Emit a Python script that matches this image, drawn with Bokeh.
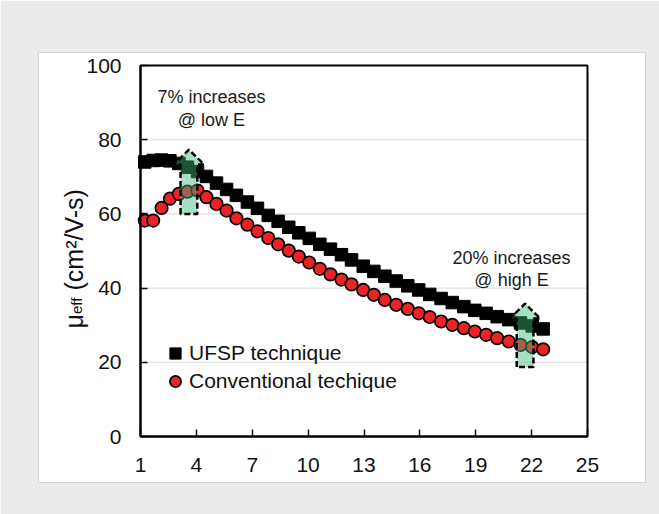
from bokeh.core.properties import value
from bokeh.embed import file_html
from bokeh.models import Label, Legend, LegendItem, Range1d
from bokeh.plotting import figure
from bokeh.resources import INLINE
import math

# Effective field sweep and the measured mobilities for both techniques
e_field = [1.23, 1.68, 2.13, 2.58, 3.06, 3.52, 4.06, 4.54, 5.08, 5.62,
           6.15, 6.74, 7.28, 7.86, 8.39, 8.96, 9.50, 10.06, 10.63, 11.20,
           11.79, 12.33, 12.96, 13.53, 14.12, 14.73, 15.35, 15.94, 16.53, 17.14,
           17.74, 18.36, 18.95, 19.56, 20.15, 20.77, 21.40, 22.03, 22.62]
mu_ufsp = [74.0, 74.4, 74.5, 74.3, 73.6, 72.6, 71.4, 70.1, 68.3, 66.6,
           65.0, 63.2, 61.5, 59.6, 58.0, 56.4, 54.9, 53.4, 51.8, 50.5,
           49.0, 47.6, 45.9, 44.5, 43.2, 41.9, 40.6, 39.5, 38.3, 37.2,
           36.1, 35.0, 34.0, 33.2, 32.3, 31.5, 30.6, 29.8, 29.0]
mu_conv = [58.2, 58.2, 61.6, 64.1, 65.4, 66.0, 66.3, 64.5, 62.7, 60.9,
           58.8, 57.1, 55.3, 53.5, 51.8, 50.1, 48.5, 46.9, 45.2, 43.7,
           42.3, 41.0, 39.5, 38.2, 36.8, 35.5, 34.4, 33.2, 32.2, 31.0,
           30.1, 29.2, 28.3, 27.4, 26.5, 25.6, 24.7, 24.1, 23.5]

series_names = ["UFSP technique", "Conventional techique"]

x_ticks = [1, 4, 7, 10, 13, 16, 19, 22, 25]
y_ticks = [0, 20, 40, 60, 80, 100]

# Highlight arrows: field position, start and tip of each arrow
arrow_x = [3.6, 21.65]
arrow_base = [60.0, 18.7]
arrow_tip = [77.3, 35.8]

# Callout texts (two lines each) and their anchors in data space
note_lines = [["7% increases", "@ low E"], ["20% increases", "@ high E"]]
note_x = [4.81, 20.92]
note_y = [[91.4, 85.2], [48.2, 42.3]]

FONT = "Liberation Sans"

# The white card is the plot frame; the axis box sits inside it.
PX_X = 18.625          # pixels per field unit
PX_Y = 3.71            # pixels per mobility unit
PAD_L, PAD_R, PAD_B, PAD_T = 102, 58, 46, 13   # card margin around the axis box

x0 = x_ticks[0] - PAD_L / PX_X
x1 = x_ticks[-1] + PAD_R / PX_X
y0 = y_ticks[0] - PAD_B / PX_Y
y1 = y_ticks[-1] + PAD_T / PX_Y

p = figure(width=659, height=514,
           x_range=Range1d(x0, x1), y_range=Range1d(y0, y1),
           min_border_left=38, min_border_right=14,
           min_border_top=52, min_border_bottom=32,
           output_backend="svg", toolbar_location=None)

p.border_fill_color = "#ebebeb"
p.background_fill_color = "white"
p.outline_line_color = "#d4d4d4"
p.outline_line_width = 1

# Axes pinned to the corner of the axis box
p.xaxis.fixed_location = y_ticks[0]
p.xaxis.bounds = (x_ticks[0], x_ticks[-1])
p.yaxis.fixed_location = x_ticks[0]
p.yaxis.bounds = (y_ticks[0], y_ticks[-1])
for ax in (p.xaxis[0], p.yaxis[0]):
    ax.axis_line_color = "black"
    ax.axis_line_width = 2
    ax.major_tick_in = 7
    ax.major_tick_out = 0
    ax.major_tick_line_color = "black"
    ax.major_tick_line_width = 1.5
    ax.minor_tick_line_color = None
    ax.major_label_text_font = FONT
    ax.major_label_text_font_size = "21px"
    ax.major_label_text_color = "#111111"
p.xaxis.ticker = x_ticks
p.xaxis.major_label_standoff = 21
p.yaxis.ticker = y_ticks
p.yaxis.major_label_standoff = 19

p.xgrid.visible = False
p.ygrid.visible = False

# Horizontal gridlines across the axis box
inner = y_ticks[1:-1]
p.segment(x0=[x_ticks[0]] * len(inner), x1=[x_ticks[-1]] * len(inner),
          y0=inner, y1=inner, line_color="#d9d9d9", line_width=1)

# Axis box outline
p.quad(left=[x_ticks[0]], right=[x_ticks[-1]], bottom=[y_ticks[0]],
       top=[y_ticks[-1]], fill_color=None, line_color="black", line_width=2)

# Data series
r_ufsp = p.scatter(e_field, mu_ufsp, marker="square", size=12.5,
                   fill_color="black", line_color="black", line_width=1)
r_conv = p.scatter(e_field, mu_conv, marker="circle", size=12.5,
                   fill_color="#ed2227", line_color="black", line_width=1.7)

# Translucent highlight arrows with dashed outline
head_len = 4.0
body_half = 0.45
head_half = 0.82
arrow_xs, arrow_ys = [], []
for xc, yb, yt in zip(arrow_x, arrow_base, arrow_tip):
    yh = yt - head_len
    arrow_xs.append([xc - body_half, xc - body_half, xc - head_half, xc,
                     xc + head_half, xc + body_half, xc + body_half])
    arrow_ys.append([yb, yh, yh, yt, yh, yh, yb])
p.patches(arrow_xs, arrow_ys, fill_color="#3cb878", fill_alpha=0.45,
          line_color="black", line_width=2.5, line_dash="6 3")

# Callout texts
for lines, xc, ys in zip(note_lines, note_x, note_y):
    p.text(x=[xc, xc], y=ys, text=lines, text_align="center",
           text_baseline="middle", text_font=value(FONT),
           text_font_size="18px", text_color="#1a1a1a")

# Legend
legend = Legend(items=[LegendItem(label=series_names[0], renderers=[r_ufsp]),
                       LegendItem(label=series_names[1], renderers=[r_conv])],
                location=(123, 87), glyph_width=28, glyph_height=28,
                label_standoff=0, padding=0, spacing=0, margin=0,
                border_line_color=None, background_fill_alpha=0,
                label_text_font=FONT, label_text_font_size="21px",
                label_text_color="#111111")
p.add_layout(legend)

# Rotated y-axis title, read bottom to top: mu, subscript "eff", then the unit
title_x = x_ticks[0] - 67 / PX_X
sub_x = x_ticks[0] - 64.5 / PX_X
label_kw = dict(angle=math.pi / 2, text_font=FONT, text_color="#111111",
                text_baseline="alphabetic", text_align="left")
p.add_layout(Label(x=title_x, y=108 / PX_Y, text="\u03bc",
                   text_font_size="25px", **label_kw))
p.add_layout(Label(x=sub_x, y=122.4 / PX_Y, text="eff",
                   text_font_size="15px", **label_kw))
p.add_layout(Label(x=title_x, y=146 / PX_Y, text="(cm\u00b2/V-s)",
                   text_font_size="25px", **label_kw))

open("out.html", "w").write(file_html(p, INLINE))
